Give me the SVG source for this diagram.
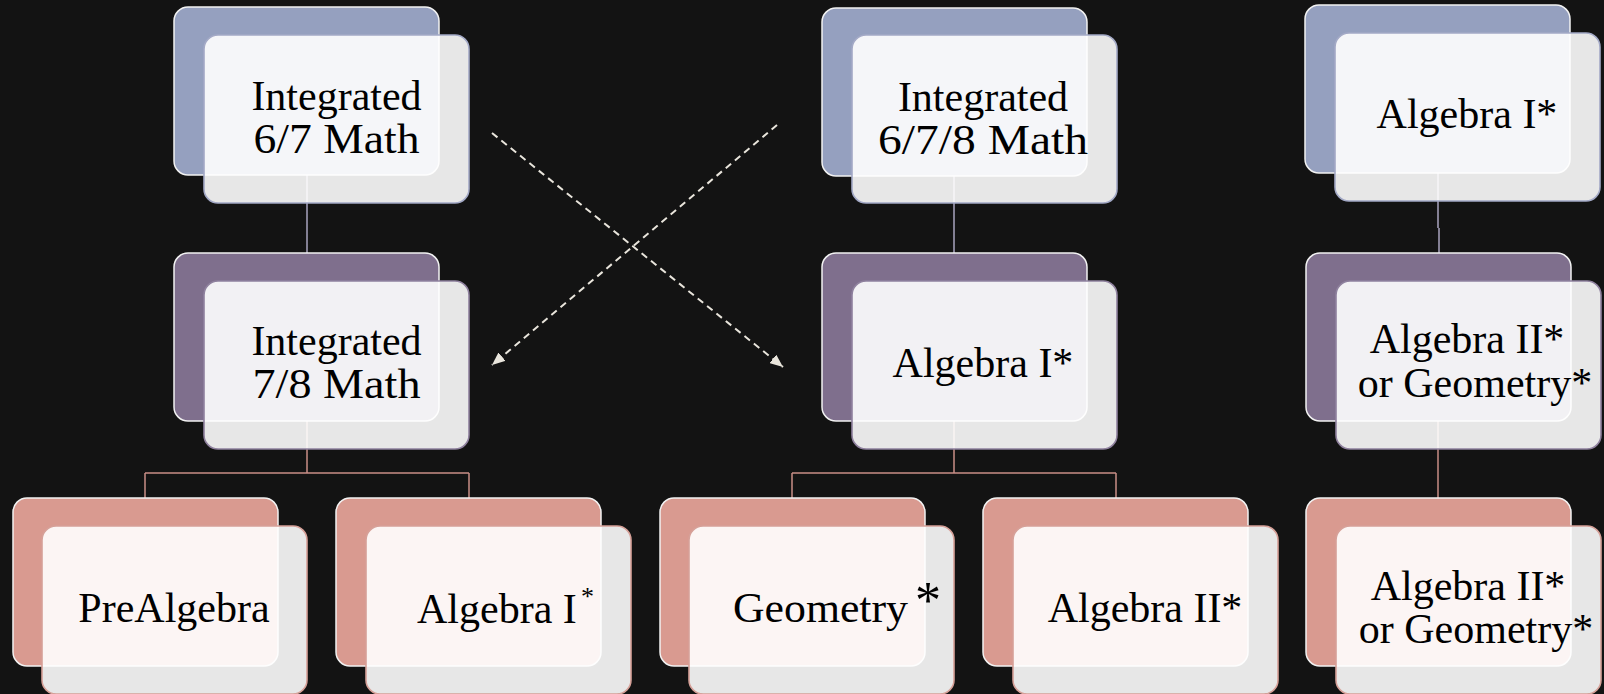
<svg xmlns="http://www.w3.org/2000/svg" width="1604" height="694" viewBox="0 0 1604 694">
<defs>
<style>
.bg{fill:#131313}
.back{stroke:#f2f2f2;stroke-width:1.5}
.b1{fill:#95a0bf}
.b2{fill:#7f6f8d}
.b3{fill:#d99a90}
.front{fill:#ffffff;fill-opacity:0.9;stroke-width:1.6}
.f1{stroke:#a3a9c6}
.f2{stroke:#8f819e}
.f3{stroke:#d6a098}
.t{font-family:"Liberation Serif","Times New Roman",serif;font-size:42px;fill:#000000}
.m{text-anchor:middle}
.c1{fill:none;stroke:#a9a4bf;stroke-width:1.5}
.c2{fill:none;stroke:#c98e86;stroke-width:1.5}
.dash{fill:none;stroke:#e9e5dc;stroke-width:2;stroke-dasharray:7 5}
</style>
<marker id="ah" viewBox="0 0 12 10" refX="12" refY="5" markerWidth="13" markerHeight="11" markerUnits="userSpaceOnUse" orient="auto">
<path d="M0,0 L12,5 L0,10 Z" fill="#e9e5dc"/>
</marker>
</defs>
<rect class="bg" x="0" y="0" width="1604" height="694"/>
<g id="connectors">
<path class="c1" d="M307,175 V253"/>
<path class="c2" d="M307,420 V473 M145,473 H469 M145,473 V498 M469,473 V498"/>
<path class="c1" d="M954,176 V253"/>
<path class="c2" d="M954,421 V473 M792,473 H1116 M792,473 V498 M1116,473 V498"/>
<path class="c1" d="M1438,173 V228 M1439,228 V253"/>
<path class="c2" d="M1438,421 V498"/>
<path class="dash" d="M492,133 L783,367" marker-end="url(#ah)"/>
<path class="dash" d="M777,125 L492,365" marker-end="url(#ah)"/>
</g>
<g id="n1">
<rect class="back b1" x="174" y="7" width="265" height="168" rx="14"/>
<rect class="front f1" x="204" y="35" width="265" height="168" rx="14"/>
<text class="t m"><tspan x="336.5" y="110">Integrated</tspan><tspan x="336.5" y="153" textLength="166" lengthAdjust="spacingAndGlyphs">6/7 Math</tspan></text>
</g>
<g id="n2">
<rect class="back b2" x="174" y="253" width="265" height="168" rx="14"/>
<rect class="front f2" x="204" y="281" width="265" height="168" rx="14"/>
<text class="t m"><tspan x="336.5" y="355">Integrated</tspan><tspan x="336.5" y="398" textLength="168" lengthAdjust="spacingAndGlyphs">7/8 Math</tspan></text>
</g>
<g id="n3">
<rect class="back b3" x="13" y="498" width="265" height="168" rx="14"/>
<rect class="front f3" x="42" y="526" width="265" height="168" rx="14"/>
<text class="t m" x="174" y="622">PreAlgebra</text>
</g>
<g id="n4">
<rect class="back b3" x="336" y="498" width="265" height="168" rx="14"/>
<rect class="front f3" x="366" y="526" width="265" height="168" rx="14"/>
<text class="t" x="417" y="623">Algebra I<tspan x="581" y="605" style="font-size:26px">*</tspan></text>
</g>
<g id="n5">
<rect class="back b1" x="822" y="8" width="265" height="168" rx="14"/>
<rect class="front f1" x="852" y="35" width="265" height="168" rx="14"/>
<text class="t m"><tspan x="983" y="111">Integrated</tspan><tspan x="983" y="154" textLength="210" lengthAdjust="spacingAndGlyphs">6/7/8 Math</tspan></text>
</g>
<g id="n6">
<rect class="back b2" x="822" y="253" width="265" height="168" rx="14"/>
<rect class="front f2" x="852" y="281" width="265" height="168" rx="14"/>
<text class="t m" x="983" y="377">Algebra I*</text>
</g>
<g id="n7">
<rect class="back b3" x="660" y="498" width="265" height="168" rx="14"/>
<rect class="front f3" x="689" y="526" width="265" height="168" rx="14"/>
<text class="t" x="733" y="622" textLength="175" lengthAdjust="spacingAndGlyphs">Geometry</text>
<text class="t" x="915" y="618" style="font-size:52px">*</text>
</g>
<g id="n8">
<rect class="back b3" x="983" y="498" width="265" height="168" rx="14"/>
<rect class="front f3" x="1013" y="526" width="265" height="168" rx="14"/>
<text class="t m" x="1145" y="622">Algebra II*</text>
</g>
<g id="n9">
<rect class="back b1" x="1305" y="5" width="265" height="168" rx="14"/>
<rect class="front f1" x="1335" y="33" width="265" height="168" rx="14"/>
<text class="t m" x="1467" y="128">Algebra I*</text>
</g>
<g id="n10">
<rect class="back b2" x="1306" y="253" width="265" height="168" rx="14"/>
<rect class="front f2" x="1336" y="281" width="265" height="168" rx="14"/>
<text class="t m"><tspan x="1467" y="353">Algebra II*</tspan><tspan x="1475" y="397">or Geometry*</tspan></text>
</g>
<g id="n11">
<rect class="back b3" x="1306" y="498" width="265" height="168" rx="14"/>
<rect class="front f3" x="1336" y="526" width="265" height="168" rx="14"/>
<text class="t m"><tspan x="1468" y="600">Algebra II*</tspan><tspan x="1476" y="643">or Geometry*</tspan></text>
</g>
</svg>
